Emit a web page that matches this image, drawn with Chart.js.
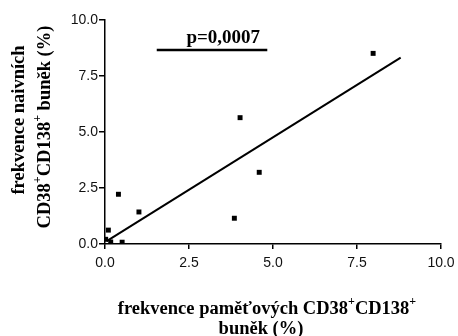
<!DOCTYPE html>
<html>
<head>
<meta charset="utf-8">
<script src="https://cdn.jsdelivr.net/npm/chart.js@4.4.1/dist/chart.umd.min.js"></script>
<style>
  html, body { margin: 0; padding: 0; background: #fff; }
  #wrap { width: 458px; height: 336px; }
</style>
</head>
<body>
<div id="wrap"><canvas id="graf"></canvas></div>
<script>
// paměťové (x) a naivní (y) CD38+CD138+ buňky, v %
const pametove = [0.02, 0.10, 0.17, 0.40, 0.51, 1.01, 3.85, 4.02, 4.59, 7.98];
const naivni   = [0.21, 0.62, 0.09, 2.22, 0.08, 1.43, 1.15, 5.64, 3.20, 8.51];

// regresní přímka (krajní body)
const regreseX = [0.05, 8.80];
const regreseY = [0.13, 8.32];

// čára pod p-hodnotou
const pCaraX = [1.54, 4.83];
const pCaraY = 8.66;
const pHodnota = 'p=0,0007';

const tickyOs = [0, 2.5, 5, 7.5, 10];

const body = pametove.map((x, i) => ({ x: x, y: naivni[i] }));
const primka = regreseX.map((x, i) => ({ x: x, y: regreseY[i] }));
const pCara = pCaraX.map(x => ({ x: x, y: pCaraY }));

const serif = '"Liberation Serif", "Times New Roman", serif';

// text s horními indexy: [text, jeHorniIndex]
function sirkaTextu(ctx, casti, vel) {
    let w = 0;
    casti.forEach(([t, sup]) => {
        ctx.font = 'bold ' + (sup ? vel * 0.65 : vel) + 'px ' + serif;
        w += ctx.measureText(t).width;
    });
    return w;
}

function kresliText(ctx, casti, cx, cy, vel) {
    const w = sirkaTextu(ctx, casti, vel);
    let x = cx - w / 2;
    ctx.textBaseline = 'middle';
    ctx.textAlign = 'left';
    casti.forEach(([t, sup]) => {
        ctx.font = 'bold ' + (sup ? vel * 0.65 : vel) + 'px ' + serif;
        ctx.fillText(t, x, sup ? cy - vel * 0.38 : cy);
        x += ctx.measureText(t).width;
    });
}

const popisky = {
    id: 'popisky',
    afterDraw(chart) {
        const ctx = chart.ctx;
        const sx = chart.scales.x;
        ctx.save();
        ctx.fillStyle = '#000';

        // p-hodnota
        kresliText(ctx, [[pHodnota, false]], sx.getPixelForValue(3.52), 38, 19);

        // popisek osy x
        kresliText(ctx, [['frekvence paměťových CD38', false], ['+', true], ['CD138', false], ['+', true]], 267, 309, 18.5);
        kresliText(ctx, [['buněk (%)', false]], 261, 329, 18.5);

        // popisek osy y (otočený)
        ctx.save();
        ctx.translate(19, 120);
        ctx.rotate(-Math.PI / 2);
        kresliText(ctx, [['frekvence naivních', false]], 0, 0, 18.5);
        ctx.restore();
        ctx.save();
        ctx.translate(45, 127);
        ctx.rotate(-Math.PI / 2);
        kresliText(ctx, [['CD38', false], ['+', true], ['CD138', false], ['+', true], [' buněk (%)', false]], 0, 0, 18.5);
        ctx.restore();

        ctx.restore();
    }
};

const tickFont = { family: '"Liberation Sans", Arial, sans-serif', size: 14 };

new Chart(document.getElementById('graf'), {
    type: 'scatter',
    data: {
        datasets: [
            {
                data: body,
                pointStyle: 'rect',
                pointRadius: 3.5,
                backgroundColor: '#000',
                borderColor: '#000',
                borderWidth: 0
            },
            {
                type: 'line',
                data: primka,
                borderColor: '#000',
                borderWidth: 2,
                pointRadius: 0,
                fill: false
            },
            {
                type: 'line',
                data: pCara,
                borderColor: '#000',
                borderWidth: 2.5,
                pointRadius: 0,
                fill: false
            }
        ]
    },
    options: {
        responsive: true,
        maintainAspectRatio: false,
        animation: false,
        layout: { padding: { top: 20, right: 17, left: 0, bottom: 0 } },
        plugins: {
            legend: { display: false },
            tooltip: { enabled: false }
        },
        scales: {
            x: {
                type: 'linear',
                min: 0,
                max: 10,
                afterBuildTicks: s => { s.ticks = tickyOs.map(v => ({ value: v })); },
                // pevná výška osy, poslední popisek smí přesahovat do okraje
                afterFit: s => { s.height = 92; s.paddingRight = 0; },
                grid: { drawOnChartArea: false, drawTicks: true, tickLength: 5, color: '#000', lineWidth: 1.5 },
                border: { display: true, color: '#000', width: 1.5 },
                ticks: { color: '#111', font: tickFont, padding: 5.5, maxRotation: 0, callback: v => v.toFixed(1) }
            },
            y: {
                type: 'linear',
                min: 0,
                max: 10,
                afterBuildTicks: s => { s.ticks = tickyOs.map(v => ({ value: v })); },
                afterFit: s => { s.width = 105; },
                grid: { drawOnChartArea: false, drawTicks: true, tickLength: 6, color: '#000', lineWidth: 1.5 },
                border: { display: true, color: '#000', width: 1.5 },
                ticks: { color: '#111', font: tickFont, padding: 1, callback: v => v.toFixed(1) }
            }
        }
    },
    plugins: [popisky]
});
</script>
</body>
</html>
